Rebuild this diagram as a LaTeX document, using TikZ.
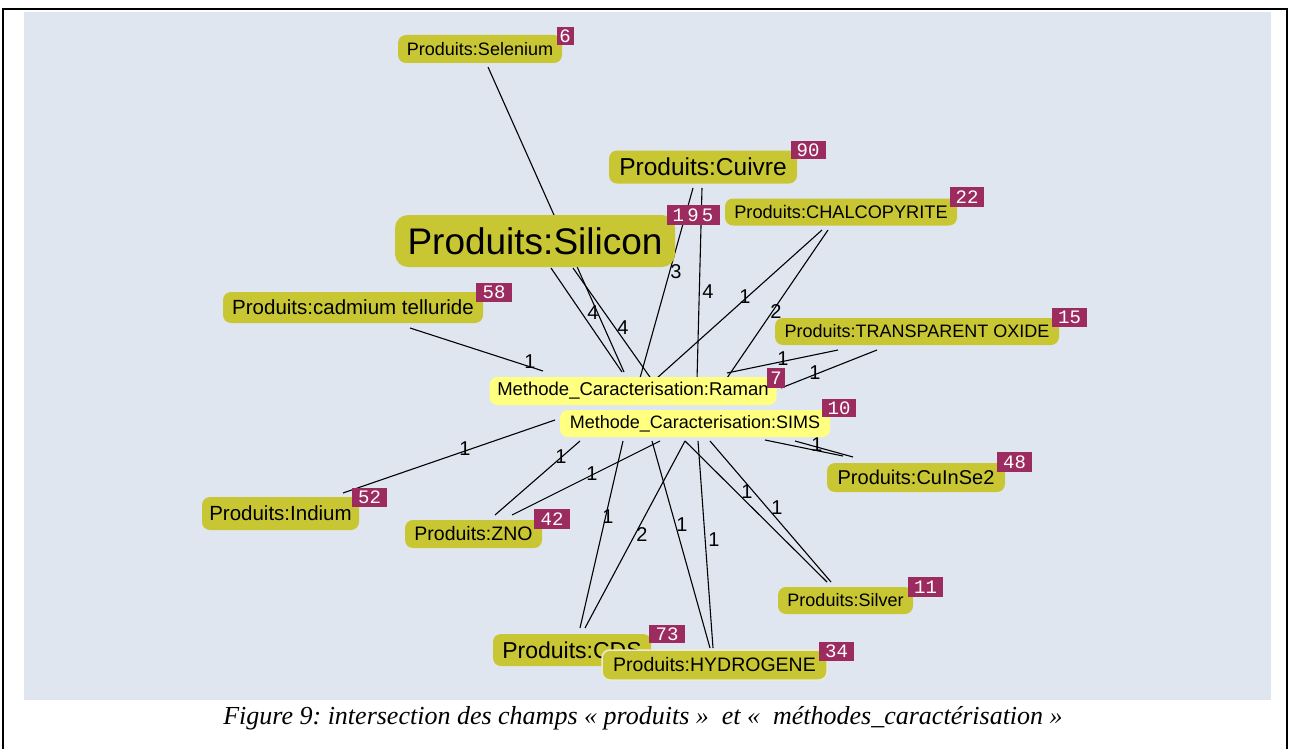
\documentclass[tikz,border=0pt]{standalone}
\usepackage{fontspec}
\setmainfont{Liberation Sans}
\newfontfamily\capfont{Liberation Serif}
\newfontfamily\numfont{Liberation Mono}
\usetikzlibrary{calc}
\frenchspacing

\definecolor{bgblue}{RGB}{224,230,240}
\definecolor{olivebox}{RGB}{201,198,52}
\definecolor{methyellow}{RGB}{255,255,128}
\definecolor{badgered}{RGB}{156,44,96}

\newcommand{\fs}[1]{\fontsize{#1}{#1}\selectfont}

\tikzset{
  prod/.style={fill=olivebox, rounded corners=8pt, inner sep=0pt, text=black},
  meth/.style={fill=methyellow, rounded corners=8pt, inner sep=0pt, text=black},
  badge/.style={fill=badgered, text=white, inner sep=0pt, minimum width=35pt,
                minimum height=19pt, font=\numfont\fs{19}},
  link/.style={draw=black, line width=1.1pt},
  weight/.style={font=\fs{20}, inner sep=0pt, text=black},
}

\begin{document}
\begin{tikzpicture}[x=1pt,y=-1pt]
\useasboundingbox (0,0) rectangle (1290,749);
\fill[white] (0,0) rectangle (1290,749);
\fill[bgblue] (24,12) rectangle (1271,700);
\draw[line width=1.5pt] (3,749) -- (3,9) -- (1287,9) -- (1287,749);

% ---- term nodes (positions only; drawn later on top of the links) ----
\path
  (480,49)      coordinate (selenium)
  (703,167)     coordinate (cuivre)
  (535,241)     coordinate (silicon)
  (841,212)     coordinate (chalco)
  (353,307.5)   coordinate (cdte)
  (917,331.5)   coordinate (tco)
  (633,391)     coordinate (raman)
  (695,423.5)   coordinate (sims)
  (916,477.5)   coordinate (cis)
  (280.5,513.5) coordinate (indium)
  (473.5,534)   coordinate (zno)
  (845.5,600.5) coordinate (silver)
  (572,650)     coordinate (cds)
  (714.5,665)   coordinate (hydro);

% ---- links with their weights ----
\draw[link] ([shift={(8,18)}]selenium) -- ([shift={(-9,-19)}]raman);
\draw[link] ([shift={(16,27)}]silicon) -- ([shift={(-11,-19)}]raman)
  node[weight] at (593,313) {4};
\draw[link] ([shift={(38,27)}]silicon) -- ([shift={(-43,-43.5)}]sims)
  node[weight] at (623,328) {4};
\draw[link] ([shift={(-10,21)}]cuivre) -- ([shift={(7,-13)}]raman)
  node[weight] at (676,272) {3};
\draw[link] ([shift={(-1,21)}]cuivre) -- ([shift={(2,-43.5)}]sims)
  node[weight] at (708,292) {4};
\draw[link] ([shift={(-19,18)}]chalco) -- ([shift={(24,-13)}]raman)
  node[weight] at (745,297) {1};
\draw[link] ([shift={(-13,18)}]chalco) -- ([shift={(32,-45.5)}]sims)
  node[weight] at (776,312) {2};
\draw[link] ([shift={(-79,18.5)}]tco) -- ([shift={(94,-18)}]raman)
  node[weight] at (783,359) {1};
\draw[link] ([shift={(-40,18.5)}]tco) -- ([shift={(148,-3)}]raman)
  node[weight] at (815,373) {1};
\draw[link] ([shift={(57,20.5)}]cdte) -- ([shift={(-90,-20)}]raman)
  node[weight] at (530,362) {1};
\draw[link] ([shift={(62.5,-20.5)}]indium) -- ([shift={(-140,-3.5)}]sims)
  node[weight] at (465,449) {1};
\draw[link] ([shift={(21.5,-19)}]zno) -- ([shift={(-115,17.5)}]sims)
  node[weight] at (561,457) {1};
\draw[link] ([shift={(38.5,-19)}]zno) -- ([shift={(-35,17.5)}]sims)
  node[weight] at (592,474) {1};
\draw[link] ([shift={(8,-22)}]cds) -- ([shift={(-72,17.5)}]sims)
  node[weight] at (608,517) {1};
\draw[link] ([shift={(13,-22)}]cds) -- ([shift={(-10,17.5)}]sims)
  node[weight] at (642,535) {2};
\draw[link] ([shift={(-4.5,-17)}]hydro) -- ([shift={(-43,17.5)}]sims)
  node[weight] at (682,525) {1};
\draw[link] ([shift={(-1.5,-17)}]hydro) -- ([shift={(3,17.5)}]sims)
  node[weight] at (714,540) {1};
\draw[link] ([shift={(-18.5,-18.5)}]silver) -- ([shift={(-10,17.5)}]sims)
  node[weight] at (747,492) {1};
\draw[link] ([shift={(-14.5,-18.5)}]silver) -- ([shift={(15,17.5)}]sims)
  node[weight] at (777,508) {1};
\draw[link] ([shift={(-73,-21.5)}]cis) -- ([shift={(70,16.5)}]sims);
\draw[link] ([shift={(-63,-20.5)}]cis) -- ([shift={(100,17.5)}]sims)
  node[weight] at (817,445) {1};

% ---- term boxes ----
\node[prod, minimum width=164pt, minimum height=28pt, font=\fs{18}]
  (nselenium) at (selenium) {Produits:Selenium};
\node[prod, minimum width=188pt, minimum height=33pt, font=\fs{24.5}]
  (ncuivre) at (cuivre) {Produits:Cuivre};
\node[prod, rounded corners=13pt, minimum width=280pt, minimum height=52pt, font=\fs{37}]
  (nsilicon) at (silicon) {Produits:Silicon};
\node[prod, minimum width=232pt, minimum height=27pt, font=\fs{18.2}]
  (nchalco) at (chalco) {Produits:CHALCOPYRITE};
\node[prod, minimum width=260pt, minimum height=31pt, font=\fs{20.5}]
  (ncdte) at (cdte) {Produits:cadmium telluride};
\node[prod, minimum width=284pt, minimum height=27pt, font=\fs{18}]
  (ntco) at (tco) {Produits:TRANSPARENT OXIDE};
\node[meth, minimum width=287pt, minimum height=28pt, font=\fs{18.5}]
  (nraman) at (raman) {Methode\_Caracterisation:Raman};
\node[meth, minimum width=270pt, minimum height=27pt, font=\fs{18}]
  (nsims) at (sims) {Methode\_Caracterisation:SIMS};
\node[prod, minimum width=178pt, minimum height=29pt, font=\fs{20}]
  (ncis) at (cis) {Produits:CuInSe2};
\node[prod, minimum width=157pt, minimum height=33pt, font=\fs{20.5}]
  (nindium) at (indium) {Produits:Indium};
\node[prod, minimum width=137pt, minimum height=28pt, font=\fs{19.5}]
  (nzno) at (zno) {Produits:ZNO};
\node[prod, minimum width=135pt, minimum height=27pt, font=\fs{18}]
  (nsilver) at (silver) {Produits:Silver};
\node[prod, minimum width=158pt, minimum height=32pt, font=\fs{23}]
  (ncds) at (cds) {Produits:CDS};
\node[prod, draw={rgb,255:red,236;green,236;blue,214}, line width=1.5pt,
      minimum width=225pt, minimum height=30pt, font=\fs{19.5}]
  (nhydro) at (hydro) {Produits:HYDROGENE};

% ---- occurrence counts ----
\node[badge, minimum width=17pt, minimum height=18pt] (bselenium) at (565,36) {6};
\node[badge, minimum height=18pt] (bcuivre) at (808,150) {90};
\node[badge, minimum width=53pt, minimum height=20pt] (bsilicon) at (693,215) {1\,9\,5};
\node[badge, minimum width=34pt, minimum height=20pt] (bchalco) at (967,197) {22};
\node[badge, minimum width=36pt] (bcdte) at (494,292.5) {58};
\node[badge] (btco) at (1069.5,317.5) {15};
\node[badge, minimum width=18pt, minimum height=20pt] (braman) at (776,378) {7};
\node[badge, minimum width=34pt, minimum height=18pt] (bsims) at (839,408) {10};
\node[badge, minimum height=20pt] (bcis) at (1014.5,462) {48};
\node[badge] (bindium) at (369.5,497.5) {52};
\node[badge, minimum width=36pt, minimum height=20pt] (bzno) at (552,519) {42};
\node[badge, minimum height=20pt] (bsilver) at (925.5,587) {11};
\node[badge, minimum width=36pt, minimum height=18pt] (bcds) at (667,634) {73};
\node[badge] (bhydro) at (836.5,651.5) {34};

% ---- caption ----
\node[font=\capfont\itshape\fs{26}, anchor=base, inner sep=0pt] (caption) at (643,724)
  {Figure 9: intersection des champs «~produits~»\ \ et «\ \ méthodes\_caractérisation~»};
\end{tikzpicture}
\end{document}
